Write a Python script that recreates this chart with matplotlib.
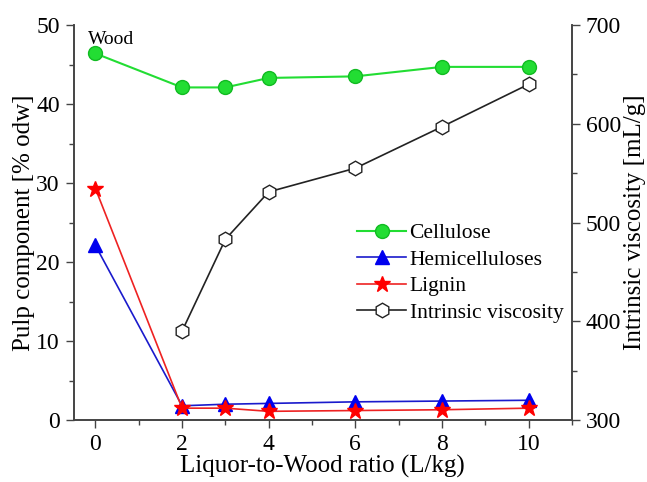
import matplotlib
matplotlib.use("Agg")
import matplotlib.pyplot as plt
from matplotlib.ticker import MultipleLocator

plt.rcParams['font.family'] = ['Liberation Serif', 'DejaVu Serif']

ratio = [0, 2, 3, 4, 6, 8, 10]
cellulose = [46.4, 42.1, 42.1, 43.3, 43.5, 44.7, 44.7]
hemicell = [22.1, 1.8, 2.0, 2.1, 2.3, 2.4, 2.5]
lignin = [29.3, 1.5, 1.5, 1.1, 1.2, 1.3, 1.5]
visc_ratio = [2, 3, 4, 6, 8, 10]
viscosity = [390, 483, 531, 555, 597, 640]

fig = plt.figure(figsize=(6.47, 4.82), dpi=100)
ax = fig.add_axes([0.114, 0.1286, 0.770, 0.8195])
ax2 = ax.twinx()

l1, = ax.plot(ratio, cellulose, '-o', color='#22dd33', mfc='#22dd33', mec='#11bb22',
              ms=10, lw=1.5, label='Cellulose')
l2, = ax.plot(ratio, hemicell, '-^', color='#1a1acc', mfc='#0000ee', mec='#0000ee',
              ms=10.5, lw=1.2, label='Hemicelluloses')
l3, = ax.plot(ratio, lignin, '-*', color='#ee2222', mfc='#ff0000', mec='#ff0000',
              ms=12, lw=1.2, label='Lignin')
l4, = ax2.plot(visc_ratio, viscosity, '-h', color='#222222', mfc='white', mec='#222222',
               ms=10.5, lw=1.2, label='Intrinsic viscosity')

ax.set_xlim(-0.5, 11.0)
ax.set_ylim(0, 50)
ax2.set_ylim(300, 700)
ax.set_xticks([0, 2, 4, 6, 8, 10])
ax.xaxis.set_minor_locator(MultipleLocator(1))
ax.yaxis.set_major_locator(MultipleLocator(10))
ax.yaxis.set_minor_locator(MultipleLocator(5))
ax2.yaxis.set_major_locator(MultipleLocator(100))
ax2.yaxis.set_minor_locator(MultipleLocator(50))

for a in (ax, ax2):
    a.tick_params(which='major', direction='out', length=6, width=1, labelsize=17, pad=4,
                  color='#444444')
    a.tick_params(which='minor', direction='out', length=3.5, width=1, color='#444444')
    for s in a.spines.values():
        s.set_linewidth(1.2)
        s.set_color('#444444')
    a.spines['top'].set_visible(False)

ax.set_xlabel('Liquor-to-Wood ratio (L/kg)', fontsize=18, labelpad=0)
ax.set_ylabel('Pulp component [% odw]', fontsize=18, labelpad=1)
ax2.set_ylabel('Intrinsic viscosity [mL/g]', fontsize=18, labelpad=2)

ax.text(-0.18, 47.6, 'Wood', fontsize=14, ha='left', va='baseline')

ax.legend(handles=[l1, l2, l3, l4], loc='upper left', bbox_to_anchor=(0.551, 0.52),
          frameon=False, fontsize=15.5, handlelength=2.3, handletextpad=0.15,
          labelspacing=0.3, borderaxespad=0)

fig.savefig('out.png', dpi=100)
